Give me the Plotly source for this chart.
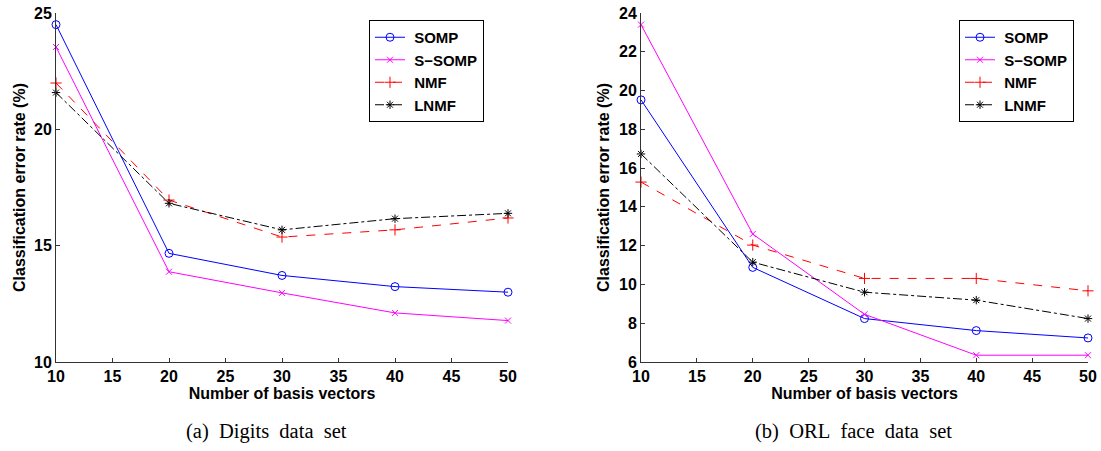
import plotly.graph_objects as go

x_vals = [10, 20, 30, 40, 50]

# (a) Digits data set
digits_somp = [24.5, 14.67, 13.72, 13.24, 13.0]
digits_ssomp = [23.54, 13.88, 12.97, 12.11, 11.78]
digits_nmf = [21.99, 16.96, 15.37, 15.68, 16.19]
digits_lnmf = [21.58, 16.82, 15.68, 16.16, 16.39]

# (b) ORL face data set
orl_somp = [19.52, 10.88, 8.24, 7.62, 7.24]
orl_ssomp = [23.4, 12.6, 8.46, 6.35, 6.35]
orl_nmf = [15.28, 12.03, 10.31, 10.31, 9.67]
orl_lnmf = [16.73, 11.15, 9.6, 9.19, 8.24]

series_names = ["SOMP", "S\u2212SOMP", "NMF", "LNMF"]
colors = ["#0000ff", "#ff00ff", "#ff0000", "#000000"]
dashes = ["solid", "solid", "dash", "dashdot"]
symbols = ["circle-open", "x-thin-open", "cross-thin-open", "asterisk-open"]
msizes = [8, 6, 8, 7]

x_ticks = [10, 15, 20, 25, 30, 35, 40, 45, 50]
left_yticks = [10, 15, 20, 25]
right_yticks = [6, 8, 10, 12, 14, 16, 18, 20, 22, 24]

captions = ["(a)\u00a0 Digits\u00a0 data\u00a0 set", "(b)\u00a0 ORL\u00a0 face\u00a0 data\u00a0 set"]

fig = go.Figure()

left_data = [digits_somp, digits_ssomp, digits_nmf, digits_lnmf]
right_data = [orl_somp, orl_ssomp, orl_nmf, orl_lnmf]

for i in range(4):
    fig.add_trace(go.Scatter(
        x=x_vals, y=left_data[i], name="\u00a0" + series_names[i], mode="lines+markers",
        line=dict(color=colors[i], width=1, dash=dashes[i]),
        marker=dict(symbol=symbols[i], size=msizes[i], color=colors[i],
                    line=dict(color=colors[i], width=1)),
        xaxis="x", yaxis="y", legend="legend", cliponaxis=False))
for i in range(4):
    fig.add_trace(go.Scatter(
        x=x_vals, y=right_data[i], name="\u00a0" + series_names[i], mode="lines+markers",
        line=dict(color=colors[i], width=1, dash=dashes[i]),
        marker=dict(symbol=symbols[i], size=msizes[i], color=colors[i],
                    line=dict(color=colors[i], width=1)),
        xaxis="x2", yaxis="y2", legend="legend2", cliponaxis=False))

W, H = 1101, 451
tickfont = dict(family="Liberation Sans, Arial", size=16, color="black", weight="bold")
titlefont = dict(family="Liberation Sans, Arial", size=16, color="black", weight="bold")

def xax(domain, anchor):
    return dict(domain=domain, anchor=anchor, range=[10, 50], tickvals=x_ticks,
                showline=True, linecolor="#333333", linewidth=1, ticks="inside",
                ticklen=4, tickcolor="#333333", showgrid=False, zeroline=False,
                automargin=False,
                tickfont=tickfont, title=dict(text="Number of basis vectors", font=titlefont, standoff=0))

def yax(domain, anchor, rng, ticks, standoff):
    return dict(domain=domain, anchor=anchor, range=rng, tickvals=ticks,
                showline=True, linecolor="#333333", linewidth=1, ticks="inside",
                ticklen=4, tickcolor="#333333", showgrid=False, zeroline=False,
                automargin=False,
                tickfont=tickfont, title=dict(text="Classification error rate (%)", font=titlefont, standoff=standoff))

ydom = [1 - 362 / H, 1 - 13 / H]
legfont = dict(family="Liberation Sans, Arial", size=15, color="black", weight="bold")

fig.update_layout(
    width=W, height=H, margin=dict(l=0, r=0, t=0, b=0, autoexpand=False),
    paper_bgcolor="white", plot_bgcolor="white",
    xaxis=xax([56 / W, 508 / W], "y"),
    yaxis=yax(ydom, "x", [10, 25], left_yticks, 4),
    xaxis2=xax([641 / W, 1088 / W], "y2"),
    yaxis2=yax(ydom, "x2", [6, 24], right_yticks, 5),
    legend=dict(x=369 / W, y=1 - 20 / H, xanchor="left", yanchor="top",
                bordercolor="black", borderwidth=1, bgcolor="white",
                font=legfont, tracegroupgap=0, itemwidth=30, entrywidth=80),
    legend2=dict(x=959 / W, y=1 - 20 / H, xanchor="left", yanchor="top",
                 bordercolor="black", borderwidth=1, bgcolor="white",
                 font=legfont, tracegroupgap=0, itemwidth=30, entrywidth=80),
    annotations=[
        dict(text=captions[0], x=266 / W, y=1 - 431 / H, xref="paper", yref="paper",
             xanchor="center", yanchor="middle",
             showarrow=False, font=dict(family="Liberation Serif, Times New Roman", size=20.5, color="black")),
        dict(text=captions[1], x=853 / W, y=1 - 431 / H, xref="paper", yref="paper",
             xanchor="center", yanchor="middle",
             showarrow=False, font=dict(family="Liberation Serif, Times New Roman", size=20.5, color="black")),
    ],
)

fig.write_html("out.html", config={"displayModeBar": False},
               post_script="document.body.style.margin='0px';document.body.style.overflow='hidden';")
